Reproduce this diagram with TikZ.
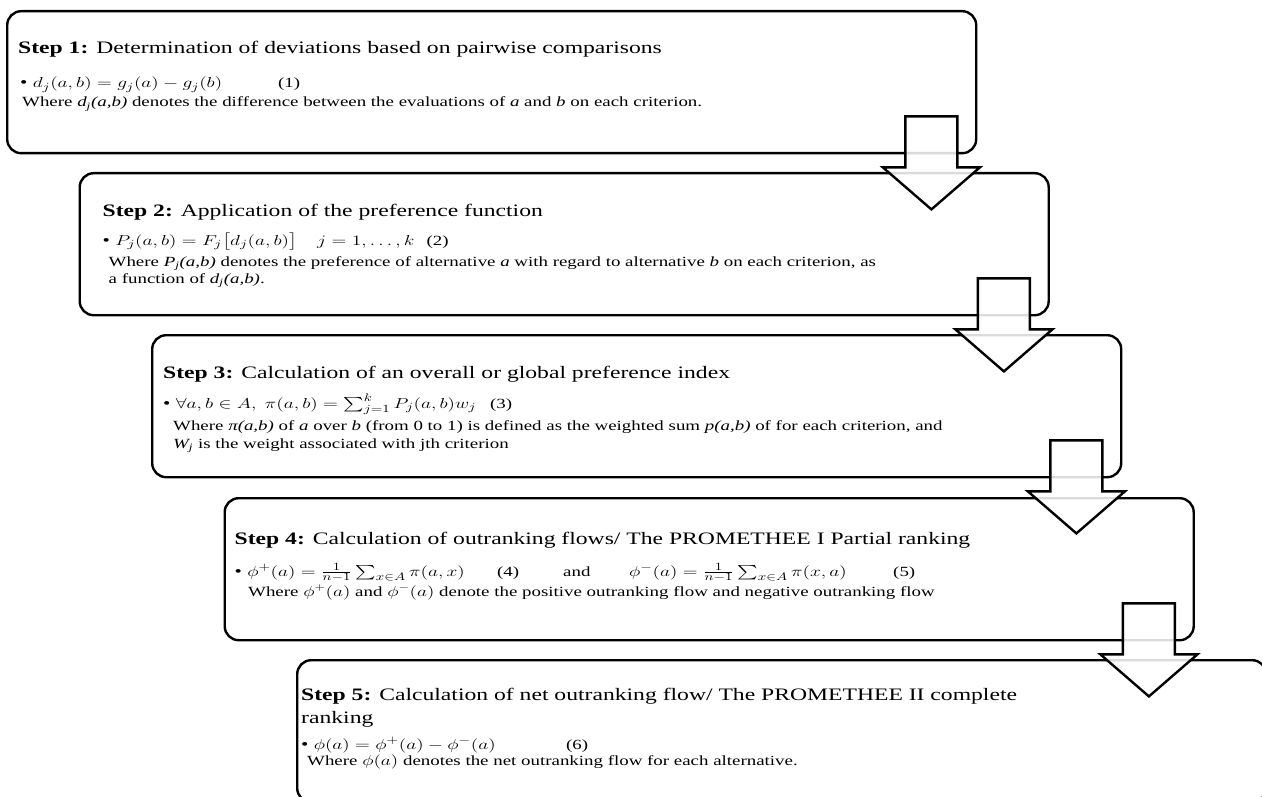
\documentclass[tikz,border=0pt]{standalone}
\usepackage{fontspec}
\setmainfont{Liberation Serif}
\usepackage{amsmath}
\usetikzlibrary{calc}
\tikzset{
  box/.style={draw, line width=2.4pt, rounded corners=14pt, minimum width=969pt, minimum height=142pt, anchor=north west, inner sep=0pt},
  arr/.style={draw, line width=2.4pt, fill=white, fill opacity=0.86, line join=miter},
  head/.style={anchor=base west, inner sep=0pt, font=\fontsize{17.5}{20}\selectfont},
  txt/.style={anchor=base west, inner sep=0pt, font=\fontsize{14}{16}\selectfont},
  eqn/.style={anchor=base west, inner sep=0pt, font=\fontsize{15.5}{17}\selectfont},
  downarrow/.pic={\draw[arr] (-26,0) -- (26,0) -- (26,51) -- (48.5,51) -- (0,93) -- (-48.5,51) -- (-26,51) -- cycle;}
}
\newcommand{\sx}[1]{\scalebox{1.35}[1]{#1}}
\begin{document}
\begin{tikzpicture}[x=1pt,y=-1pt]
\useasboundingbox (0,0) rectangle (1262,797);
% boxes
\node[box] (b1) at (6,10) {};
\node[box] (b2) at (78.5,172) {};
\node[box] (b3) at (151,334) {};
\node[box] (b4) at (223.5,497) {};
\node[box] (b5) at (296,659) {};
% arrows
\pic at ($(b1.south east)+(-46,-38)$) {downarrow};
\pic at ($(b2.south east)+(-46,-38)$) {downarrow};
\pic at ($(b3.south east)+(-46,-38)$) {downarrow};
\pic at ($(b4.south east)+(-46,-38)$) {downarrow};
% box 1
\node[head] (h1) at ($(b1.north west)+(12,44)$) {\sx{\textbf{Step 1:} Determination of deviations based on pairwise comparisons}};
\node[eqn] (e1) at ($(b1.north west)+(14,78)$) {\sx{\textbullet\ $d_j(a,b)=g_j(a)-g_j(b)$}};
\node[txt] (n1) at ($(b1.north west)+(272,78)$) {\sx{(1)}};
\node[txt] (w1) at ($(b1.north west)+(16,97)$) {\sx{Where \textit{d\textsubscript{j}(a,b)} denotes the difference between the evaluations of \textit{a} and \textit{b} on each criterion.}};
% box 2
\node[head] (h2) at ($(b2.north west)+(24,44)$) {\sx{\textbf{Step 2:} Application of the preference function}};
\node[eqn] (e2) at ($(b2.north west)+(24,73)$) {\sx{\textbullet\ $P_j(a,b)=F_j\bigl[d_j(a,b)\bigr]$}};
\node[eqn] (r2) at ($(b2.north west)+(238.5,73)$) {\sx{$j=1,\dots,k$}};
\node[txt] (n2) at ($(b2.north west)+(348,73)$) {\sx{(2)}};
\node[txt] (w2a) at ($(b2.north west)+(30,94)$) {\sx{Where \textit{P\textsubscript{j}(a,b)} denotes the preference of alternative \textit{a} with regard to alternative \textit{b} on each criterion, as}};
\node[txt] (w2b) at ($(b2.north west)+(30,111)$) {\sx{a function of \textit{d\textsubscript{j}(a,b)}.}};
% box 3
\node[head] (h3) at ($(b3.north west)+(12,44)$) {\sx{\textbf{Step 3:} Calculation of an overall or global preference index}};
\node[eqn] (e3) at ($(b3.north west)+(12,74)$) {\sx{\textbullet\ $\forall a,b\in A,\ \pi(a,b)=\sum_{j=1}^{k}P_j(a,b)w_j$}};
\node[txt] (n3) at ($(b3.north west)+(339,74)$) {\sx{(3)}};
\node[txt] (w3a) at ($(b3.north west)+(22,96)$) {\sx{Where \textit{π(a,b)} of \textit{a} over \textit{b} (from 0 to 1) is defined as the weighted sum \textit{p(a,b)} of for each criterion, and}};
\node[txt] (w3b) at ($(b3.north west)+(22,114)$) {\sx{\textit{W\textsubscript{j}} is the weight associated with jth criterion}};
% box 4
\node[head] (h4) at ($(b4.north west)+(11,47)$) {\sx{\textbf{Step 4:} Calculation of outranking flows/ The PROMETHEE I Partial ranking}};
\node[eqn] (e4) at ($(b4.north west)+(11,79)$) {\sx{\textbullet\ $\phi^{+}(a)=\tfrac{1}{n-1}\sum_{x\in A}\pi(a,x)$}};
\node[txt] (n4) at ($(b4.north west)+(273.5,79)$) {\sx{(4)}};
\node[txt] (a4) at ($(b4.north west)+(339.5,79)$) {\sx{and}};
\node[eqn] (f4) at ($(b4.north west)+(405.5,79)$) {\sx{$\phi^{-}(a)=\tfrac{1}{n-1}\sum_{x\in A}\pi(x,a)$}};
\node[txt] (m4) at ($(b4.north west)+(669.5,79)$) {\sx{(5)}};
\node[txt] (w4) at ($(b4.north west)+(24.5,99)$) {\sx{Where $\phi^{+}(a)$ and $\phi^{-}(a)$ denote the positive outranking flow and negative outranking flow}};
% box 5
\node[head] (h5a) at ($(b5.north west)+(5,41)$) {\sx{\textbf{Step 5:} Calculation of net outranking flow/ The PROMETHEE II complete}};
\node[head] (h5b) at ($(b5.north west)+(5,64)$) {\sx{ranking}};
\node[eqn] (e5) at ($(b5.north west)+(5,90)$) {\sx{\textbullet\ $\phi(a)=\phi^{+}(a)-\phi^{-}(a)$}};
\node[txt] (n5) at ($(b5.north west)+(270,90)$) {\sx{(6)}};
\node[txt] (w5) at ($(b5.north west)+(11,106)$) {\sx{Where $\phi(a)$ denotes the net outranking flow for each alternative.}};
\end{tikzpicture}
\end{document}
